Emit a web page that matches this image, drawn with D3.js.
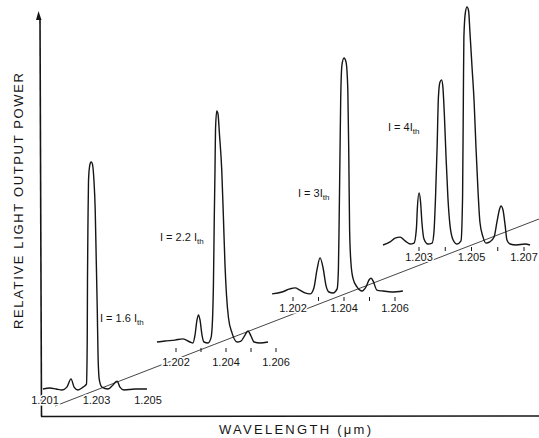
<!DOCTYPE html>
<html>
<head>
<meta charset="utf-8">
<script src="https://cdn.jsdelivr.net/npm/d3@7"></script>
<style>
  html, body { margin: 0; padding: 0; background: #fff; }
  svg { display: block; font-family: "Liberation Sans", Arial, sans-serif; }
</style>
</head>
<body>
<svg id="chart" width="539" height="438"></svg>
<script>
// Spectra: wavelength (um) and relative output power (0-100)
const wave16 = [1.20092, 1.20119, 1.20143, 1.20166, 1.20185, 1.20201, 1.20213, 1.20228, 1.20248, 1.20261,
  1.20264, 1.20265, 1.20267, 1.20269, 1.20274, 1.20279, 1.20284, 1.20290, 1.20295, 1.20299,
  1.20303, 1.20306, 1.20311, 1.20321, 1.20345, 1.20364, 1.20380, 1.20391, 1.20407, 1.20450, 1.20496];
const power16 = [0, 0.4, 0, -0.4, 0.8, 4.2, 0.8, -0.4, 0.8, 2,
  20.4, 45.4, 70.4, 87, 93.3, 94.6, 93.8, 87, 74.6, 53.8,
  33, 14, 3.8, 0.8, 0, 1.7, 3.3, 0.8, -0.4, 0, 0];

const wave22 = [1.20124, 1.20156, 1.20196, 1.20228, 1.20256, 1.20268, 1.20276, 1.20284, 1.20290, 1.20296,
  1.20304, 1.20312, 1.20328, 1.20340, 1.20346, 1.20350, 1.20353, 1.20356, 1.20358, 1.20363,
  1.20368, 1.20374, 1.20383, 1.20390, 1.20396, 1.20402, 1.20410, 1.20424, 1.20444, 1.20460,
  1.20476, 1.20488, 1.20500, 1.20512, 1.20536, 1.20568];
const power22 = [0, 0.4, 0.8, 1.3, 0, -0.4, 2.9, 9.2, 11.3, 9.2,
  2.9, 0, -0.4, 1.7, 9.2, 25.8, 50.8, 71.7, 88.3, 96.3,
  95, 86.3, 71.7, 50.8, 32.1, 19.6, 10, 3.8, 0, 0.4,
  2.9, 4.6, 2.5, 0, -0.4, 0];

const wave30 = [1.20118, 1.20157, 1.20188, 1.20208, 1.20227, 1.20247, 1.20267, 1.20282, 1.20294, 1.20306,
  1.20318, 1.20329, 1.20341, 1.20357, 1.20373, 1.20378, 1.20381, 1.20384, 1.20387, 1.20392,
  1.20400, 1.20408, 1.20415, 1.20419, 1.20422, 1.20427, 1.20435, 1.20451, 1.20471, 1.20486,
  1.20498, 1.20506, 1.20514, 1.20529, 1.20553, 1.20588, 1.20631];
const power30 = [-0.8, 0, 1.3, 1.7, 0.8, -0.4, -0.8, 1.7, 9.2, 14.2,
  10, 2.9, 0, -0.4, 1.3, 9.2, 30, 55, 80, 94.6,
  97.5, 95.8, 84.2, 55, 25.8, 12.5, 5.8, 2.1, 0.4, 2.1,
  5, 5.8, 4.6, 0.8, 0.4, 0, 0.4];

const wave40 = [1.20163, 1.20190, 1.20209, 1.20228, 1.20247, 1.20266, 1.20281, 1.20290, 1.20294, 1.20300,
  1.20306, 1.20311, 1.20319, 1.20334, 1.20350, 1.20357, 1.20363, 1.20369, 1.20374, 1.20380,
  1.20386, 1.20391, 1.20397, 1.20403, 1.20410, 1.20418, 1.20430, 1.20445, 1.20460, 1.20466,
  1.20469, 1.20471, 1.20477, 1.20483, 1.20489, 1.20494, 1.20502, 1.20510, 1.20517, 1.20525,
  1.20532, 1.20544, 1.20555, 1.20570, 1.20586, 1.20597, 1.20607, 1.20612, 1.20620, 1.20628,
  1.20635, 1.20647, 1.20670, 1.20704, 1.20723];
const power40 = [0, 1.3, 2.9, 3.3, 1.7, 0.4, 0.8, 6.7, 15.8, 21.7,
  17.9, 9.6, 2.5, 0.4, 0.8, 5.4, 20, 40.8, 61.7, 67.9,
  68.8, 65.8, 53.3, 36.7, 20, 8.3, 2.1, 0.4, 1.7, 20,
  61.7, 86.7, 97.1, 99.2, 97.5, 88.8, 74.2, 59.6, 40.8, 22.1,
  9.6, 3.3, 0.8, 1.3, 3.3, 9.6, 15, 16.3, 14.6, 8.3,
  2.1, 0.4, 0, 0.4, 0];

// wavelength tick labels and tick marks under each spectrum
const labels16 = [1.201, 1.203, 1.205];
const labels22 = [1.202, 1.204, 1.206];
const labels30 = [1.202, 1.204, 1.206];
const labels40 = [1.203, 1.205, 1.207];
const marks22 = [1.202, 1.203, 1.204, 1.205, 1.206];
const marks30 = [1.202, 1.203, 1.204, 1.205, 1.206];
const marks40 = [1.203, 1.204, 1.205, 1.206, 1.207];

const currents = ['1.6', '2.2', '3', '4'];

const ink = '#151515';
const svg = d3.select('#chart');

// where each spectrum sits on the page (staggered along the diagonal)
const panels = [
  { wave: wave16, power: power16, labels: labels16, marks: [], dom: [1.201, 1.205], rng: [45, 148], base: 389, labelDy: 15, markDy: 0, text: [100, 322], txt: 'I = ' + currents[0] + ' I' },
  { wave: wave22, power: power22, labels: labels22, marks: marks22, dom: [1.202, 1.206], rng: [176, 276], base: 342, labelDy: 24, markDy: 6, text: [160, 241], txt: 'I = ' + currents[1] + ' I' },
  { wave: wave30, power: power30, labels: labels30, marks: marks30, dom: [1.202, 1.206], rng: [293, 395], base: 292, labelDy: 20, markDy: 5, text: [298, 197], txt: 'I = ' + currents[2] + 'I' },
  { wave: wave40, power: power40, labels: labels40, marks: marks40, dom: [1.203, 1.207], rng: [419, 524], base: 245, labelDy: 16, markDy: 2, text: [388, 131], txt: 'I = ' + currents[3] + 'I' },
];

// main frame: vertical power axis with arrow and horizontal wavelength axis
const frame = svg.append('g').attr('class', 'frame');
frame.append('line')
  .attr('x1', 40).attr('y1', 18).attr('x2', 41.5).attr('y2', 416.5)
  .attr('stroke', ink).attr('stroke-width', 1.6);
frame.append('path')
  .attr('d', 'M38.5,11 L36,20 L41.5,20 Z')
  .attr('fill', ink);
frame.append('line')
  .attr('x1', 41).attr('y1', 416.5).attr('x2', 539).attr('y2', 416)
  .attr('stroke', ink).attr('stroke-width', 1.6);

// diagonal guide line through the spectra
const guide = d3.scaleLinear().domain([55, 539]).range([406, 219]);
svg.append('path')
  .attr('d', d3.line()([55, 539].map((x) => [x, guide(x)])))
  .attr('stroke', ink)
  .attr('stroke-width', 0.8)
  .attr('fill', 'none');

const y = d3.scaleLinear().domain([0, 100]).range([0, -240]);

panels.forEach((p) => {
  const x = d3.scaleLinear().domain(p.dom).range(p.rng);
  const g = svg.append('g').attr('class', 'spectrum').attr('transform', `translate(0, ${p.base})`);

  // tick marks
  g.selectAll('line.mark')
    .data(p.marks)
    .join('line')
    .attr('class', 'mark')
    .attr('x1', (d) => x(d)).attr('x2', (d) => x(d))
    .attr('y1', p.markDy).attr('y2', p.markDy + 4)
    .attr('stroke', ink).attr('stroke-width', 1);

  // wavelength labels, with a white halo so they sit on top of the lines
  g.selectAll('text.wl')
    .data(p.labels)
    .join('text')
    .attr('class', 'wl')
    .attr('x', (d) => x(d))
    .attr('y', p.labelDy)
    .attr('text-anchor', 'middle')
    .attr('font-size', 11)
    .attr('fill', ink)
    .attr('stroke', '#fff')
    .attr('stroke-width', 3)
    .attr('paint-order', 'stroke')
    .text((d) => d3.format('.3f')(d));

  // spectrum trace
  const pts = p.wave.map((w, i) => [w, p.power[i]]);
  g.append('path')
    .datum(pts)
    .attr('fill', 'none')
    .attr('stroke', ink)
    .attr('stroke-width', 1.4)
    .attr('stroke-linejoin', 'round')
    .attr('d', d3.line().curve(d3.curveMonotoneX).x((d) => x(d[0])).y((d) => y(d[1])));

  // current label
  const t = svg.append('text')
    .attr('x', p.text[0])
    .attr('y', p.text[1])
    .attr('font-size', 11)
    .attr('fill', ink);
  t.append('tspan').text(p.txt);
  t.append('tspan').attr('dy', 3).attr('font-size', 8).text('th');
});

// axis titles
svg.append('text')
  .attr('transform', 'translate(23, 201) rotate(-90)')
  .attr('text-anchor', 'middle')
  .attr('font-size', 13)
  .attr('fill', ink)
  .attr('textLength', 256)
  .attr('lengthAdjust', 'spacing')
  .text('RELATIVE LIGHT OUTPUT POWER');

svg.append('text')
  .attr('x', 295)
  .attr('y', 434)
  .attr('text-anchor', 'middle')
  .attr('font-size', 13)
  .attr('fill', ink)
  .attr('textLength', 152)
  .attr('lengthAdjust', 'spacing')
  .text('WAVELENGTH (\u03bcm)');
</script>
</body>
</html>
